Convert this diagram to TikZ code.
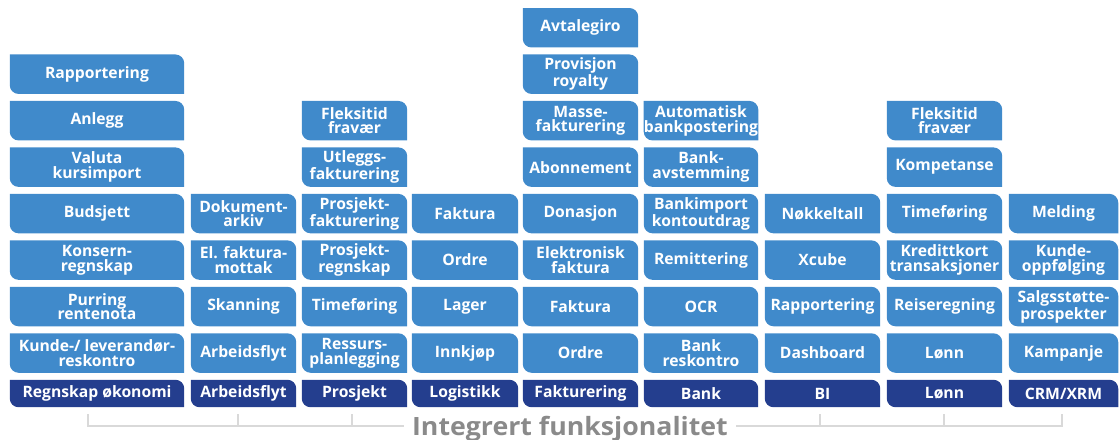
\documentclass[tikz,border=0pt]{standalone}
\usepackage{fontspec}
\setsansfont{Open Sans}
\newfontfamily\labfont{Open Sans}[FakeStretch=1.06]
\usetikzlibrary{positioning, backgrounds}

\definecolor{sky}{RGB}{64,138,203}
\definecolor{navy}{RGB}{36,62,142}
\definecolor{railgray}{RGB}{217,217,217}
\definecolor{labgray}{RGB}{138,138,138}

\begin{document}
\begin{tikzpicture}[
x=0.03cm, y=-0.03cm,
font=\sffamily\bfseries,
node distance=0.21cm,
tab/.style={
text=white,
minimum height=1.17cm,
inner sep=0pt,
align=center,
font=\sffamily\bfseries\fontsize{13.4}{12.5}\selectfont
},
head/.style={tab, minimum height=0.81cm},
rail/.style={draw=railgray, line width=1.6pt},
lab/.style={text=labgray, anchor=base, inner xsep=0.24cm,
font=\labfont\bfseries\fontsize{21.5}{21.5}\selectfont}
]
\useasboundingbox (0,0) rectangle (1119,439);

% Regnskap økonomi
\begin{scope}[nodes={minimum width=5.22cm}]
\node[head] (okon) at (97,393.5) {Regnskap økonomi};
\node[tab, above=of okon] (okon1) {Kunde-/ leverandør-\\reskontro};
\node[tab, above=of okon1] (okon2) {Purring\\rentenota};
\node[tab, above=of okon2] (okon3) {Konsern-\\regnskap};
\node[tab, above=of okon3] (okon4) {Budsjett};
\node[tab, above=of okon4] (okon5) {Valuta\\kursimport};
\node[tab, above=of okon5] (okon6) {Anlegg};
\node[tab, above=of okon6] (okon7) {Rapportering};
\end{scope}

% Arbeidsflyt
\begin{scope}[nodes={minimum width=3.15cm}]
\node[head] (flyt) at (243.5,393.5) {Arbeidsflyt};
\node[tab, above=of flyt] (flyt1) {Arbeidsflyt};
\node[tab, above=of flyt1] (flyt2) {Skanning};
\node[tab, above=of flyt2] (flyt3) {El. faktura-\\mottak};
\node[tab, above=of flyt3] (flyt4) {Dokument-\\arkiv};
\end{scope}

% Prosjekt
\begin{scope}[nodes={minimum width=3.15cm}]
\node[head] (prosj) at (354.5,393.5) {Prosjekt};
\node[tab, above=of prosj] (prosj1) {Ressurs-\\planlegging};
\node[tab, above=of prosj1] (prosj2) {Timeføring};
\node[tab, above=of prosj2] (prosj3) {Prosjekt-\\regnskap};
\node[tab, above=of prosj3] (prosj4) {Prosjekt-\\fakturering};
\node[tab, above=of prosj4] (prosj5) {Utleggs-\\fakturering};
\node[tab, above=of prosj5] (prosj6) {Fleksitid\\fravær};
\end{scope}

% Logistikk
\begin{scope}[nodes={minimum width=3.18cm}]
\node[head] (logi) at (465,393.5) {Logistikk};
\node[tab, above=of logi] (logi1) {Innkjøp};
\node[tab, above=of logi1] (logi2) {Lager};
\node[tab, above=of logi2] (logi3) {Ordre};
\node[tab, above=of logi3] (logi4) {Faktura};
\end{scope}

% Fakturering
\begin{scope}[nodes={minimum width=3.45cm}]
\node[head] (fakt) at (580.5,393.5) {Fakturering};
\node[tab, above=of fakt] (fakt1) {Ordre};
\node[tab, above=of fakt1] (fakt2) {Faktura};
\node[tab, above=of fakt2] (fakt3) {Elektronisk\\faktura};
\node[tab, above=of fakt3] (fakt4) {Donasjon};
\node[tab, above=of fakt4] (fakt5) {Abonnement};
\node[tab, above=of fakt5] (fakt6) {Masse-\\fakturering};
\node[tab, above=of fakt6] (fakt7) {Provisjon\\royalty};
\node[tab, above=of fakt7] (fakt8) {Avtalegiro};
\end{scope}

% Bank
\begin{scope}[nodes={minimum width=3.42cm}]
\node[head] (bank) at (701,393.5) {Bank};
\node[tab, above=of bank] (bank1) {Bank\\reskontro};
\node[tab, above=of bank1] (bank2) {OCR};
\node[tab, above=of bank2] (bank3) {Remittering};
\node[tab, above=of bank3] (bank4) {Bankimport\\kontoutdrag};
\node[tab, above=of bank4] (bank5) {Bank-\\avstemming};
\node[tab, above=of bank5] (bank6) {Automatisk\\bankpostering};
\end{scope}

% BI
\begin{scope}[nodes={minimum width=3.45cm}]
\node[head] (bi) at (822.5,393.5) {BI};
\node[tab, above=of bi] (bi1) {Dashboard};
\node[tab, above=of bi1] (bi2) {Rapportering};
\node[tab, above=of bi2] (bi3) {Xcube};
\node[tab, above=of bi3] (bi4) {Nøkkeltall};
\end{scope}

% Lønn
\begin{scope}[nodes={minimum width=3.45cm}]
\node[head] (lonn) at (944.5,393.5) {Lønn};
\node[tab, above=of lonn] (lonn1) {Lønn};
\node[tab, above=of lonn1] (lonn2) {Reiseregning};
\node[tab, above=of lonn2] (lonn3) {Kredittkort\\transaksjoner};
\node[tab, above=of lonn3] (lonn4) {Timeføring};
\node[tab, above=of lonn4] (lonn5) {Kompetanse};
\node[tab, above=of lonn5] (lonn6) {Fleksitid\\fravær};
\end{scope}

% CRM/XRM
\begin{scope}[nodes={minimum width=3.27cm}]
\node[head] (crm) at (1063.5,393.5) {CRM/XRM};
\node[tab, above=of crm] (crm1) {Kampanje};
\node[tab, above=of crm1] (crm2) {Salgsstøtte-\\prospekter};
\node[tab, above=of crm2] (crm3) {Kunde-\\oppfølging};
\node[tab, above=of crm3] (crm4) {Melding};
\end{scope}

% tab shapes behind the texts
\begin{scope}[on background layer]
\foreach \col/\n in {okon/7, flyt/4, prosj/6, logi/4, fakt/8, bank/6, bi/4, lonn/6, crm/4}{
\fill[navy] (\col.north west) -- ([xshift=-7.5pt]\col.north east)
arc[start angle=90, end angle=0, radius=7.5pt] -- (\col.south east)
-- ([xshift=7.5pt]\col.south west)
arc[start angle=270, end angle=180, radius=7.5pt] -- cycle;
\foreach \i in {1,...,\n}
\fill[sky] (\col\i.north west) -- ([xshift=-7.5pt]\col\i.north east)
arc[start angle=90, end angle=0, radius=7.5pt] -- (\col\i.south east)
-- ([xshift=7.5pt]\col\i.south west)
arc[start angle=270, end angle=180, radius=7.5pt] -- cycle;
}
\end{scope}

% Integrert funksjonalitet
\node[lab] (integ) at (570,435) {Integrert funksjonalitet};
\coordinate (lbrk) at (88,426);
\coordinate (rbrk) at (1062,426);
\draw[rail] (integ.west |- lbrk) -- (lbrk) -- ++(0,-12);
\draw[rail] (integ.east |- rbrk) -- (rbrk) -- ++(0,-12);
\foreach \x in {238,352,820,944}
\draw[rail] (\x,426) -- ++(0,-12);

\end{tikzpicture}
\end{document}
